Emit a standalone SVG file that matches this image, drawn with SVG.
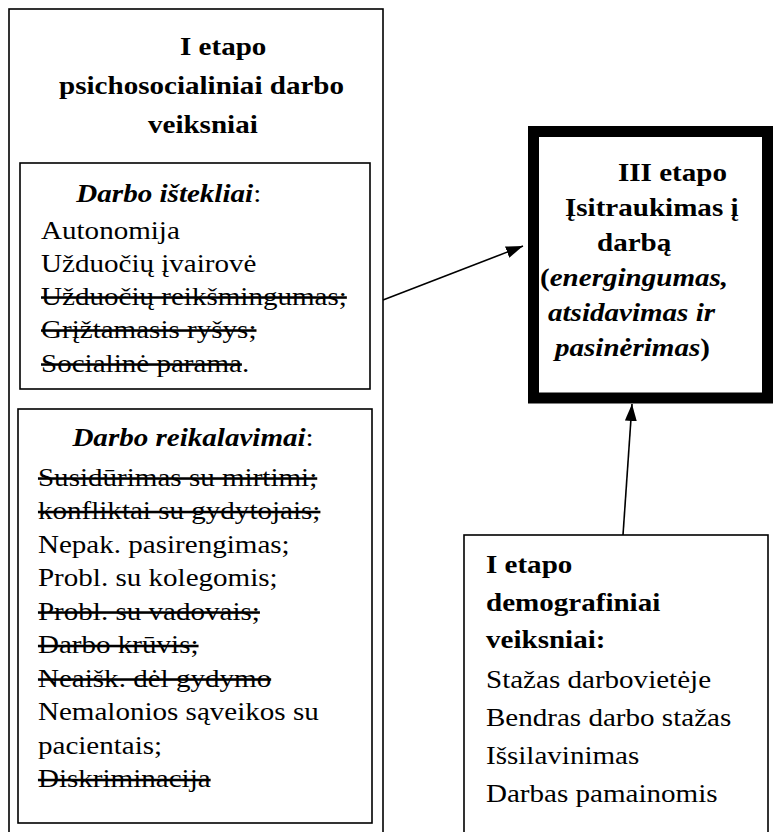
<svg xmlns="http://www.w3.org/2000/svg" width="773" height="832" viewBox="0 0 773 832" font-family="'Liberation Serif', Tinos, 'DejaVu Serif', serif">
<style>
text{font-family:'Liberation Serif', Tinos, 'DejaVu Serif', serif;font-size:25.5px;fill:#000}
.b{font-weight:bold}
.i{font-style:italic}
.s{text-decoration:line-through}
.box{fill:none;stroke:#000;stroke-width:1.6}
.thick{fill:#fff;stroke:#000;stroke-width:11}
.conn{stroke:#000;stroke-width:1.6;fill:none}
</style>
<defs>
<marker id="ah" viewBox="0 0 17 12" refX="17" refY="6" markerWidth="17" markerHeight="12" markerUnits="userSpaceOnUse" orient="auto">
<path d="M0,0 L17,6 L0,12 z" fill="#000"/>
</marker>
</defs>
<rect width="773" height="832" fill="#fff"/>

<g id="node-psichosocialiniai">
<rect class="box" x="9" y="9" width="374" height="860"/>
<g transform="scale(1.14 1)">
<text class="b" x="157.9" y="55">I etapo</text>
<text class="b" x="51.8" y="94">psichosocialiniai darbo</text>
<text class="b" x="129.8" y="133">veiksniai</text>
</g>
</g>

<g id="node-istekliai">
<rect class="box" x="20" y="163" width="350" height="226"/>
<g transform="scale(1.14 1)">
<text x="67" y="202"><tspan class="b i">Darbo ištekliai</tspan>:</text>
<text x="36" y="239">Autonomija</text>
<text x="36" y="272">Užduočių įvairovė</text>
<text class="s" x="36" y="305">Užduočių reikšmingumas;</text>
<text class="s" x="36" y="338">Grįžtamasis ryšys;</text>
<text x="36" y="372"><tspan class="s">Socialinė parama</tspan>.</text>
</g>
</g>

<g id="node-reikalavimai">
<rect class="box" x="18" y="409" width="354" height="414"/>
<g transform="scale(1.14 1)">
<text x="63.5" y="446"><tspan class="b i">Darbo reikalavimai</tspan>:</text>
<text class="s" x="33.3" y="486">Susidūrimas su mirtimi;</text>
<text class="s" x="33.3" y="519.5">konfliktai su gydytojais;</text>
<text x="33.3" y="553">Nepak. pasirengimas;</text>
<text x="33.3" y="586.5">Probl. su kolegomis;</text>
<text class="s" x="33.3" y="620">Probl. su vadovais;</text>
<text class="s" x="33.3" y="653.5">Darbo krūvis;</text>
<text class="s" x="33.3" y="687">Neaišk. dėl gydymo</text>
<text x="33.3" y="720.5">Nemalonios sąveikos su</text>
<text x="33.3" y="754">pacientais;</text>
<text class="s" x="33.3" y="787.5">Diskriminacija</text>
</g>
</g>

<g id="node-isitraukimas">
<rect class="thick" x="533.5" y="131.5" width="234" height="266.5"/>
<g transform="scale(1.14 1)">
<text class="b" x="542.1" y="181">III etapo</text>
<text class="b" x="495.6" y="216">Įsitraukimas į</text>
<text class="b" x="523.7" y="251">darbą</text>
<text class="b" x="473.7" y="286">(<tspan class="i">energingumas,</tspan></text>
<text class="b i" x="480.7" y="321">atsidavimas ir</text>
<text class="b" x="486.8" y="356"><tspan class="i">pasinėrimas</tspan>)</text>
</g>
</g>

<g id="node-demografiniai">
<rect class="box" x="464" y="535" width="304" height="330"/>
<g transform="scale(1.14 1)">
<text class="b" x="426.3" y="573">I etapo</text>
<text class="b" x="426.3" y="611">demografiniai</text>
<text class="b" x="426.3" y="648">veiksniai:</text>
<text x="426.3" y="688">Stažas darbovietėje</text>
<text x="426.3" y="726">Bendras darbo stažas</text>
<text x="426.3" y="764">Išsilavinimas</text>
<text x="426.3" y="802">Darbas pamainomis</text>
</g>
</g>

<g id="connectors">
<line class="conn" x1="383" y1="300" x2="523" y2="246" marker-end="url(#ah)"/>
<line class="conn" x1="623" y1="535" x2="632" y2="404" marker-end="url(#ah)"/>
</g>
</svg>
